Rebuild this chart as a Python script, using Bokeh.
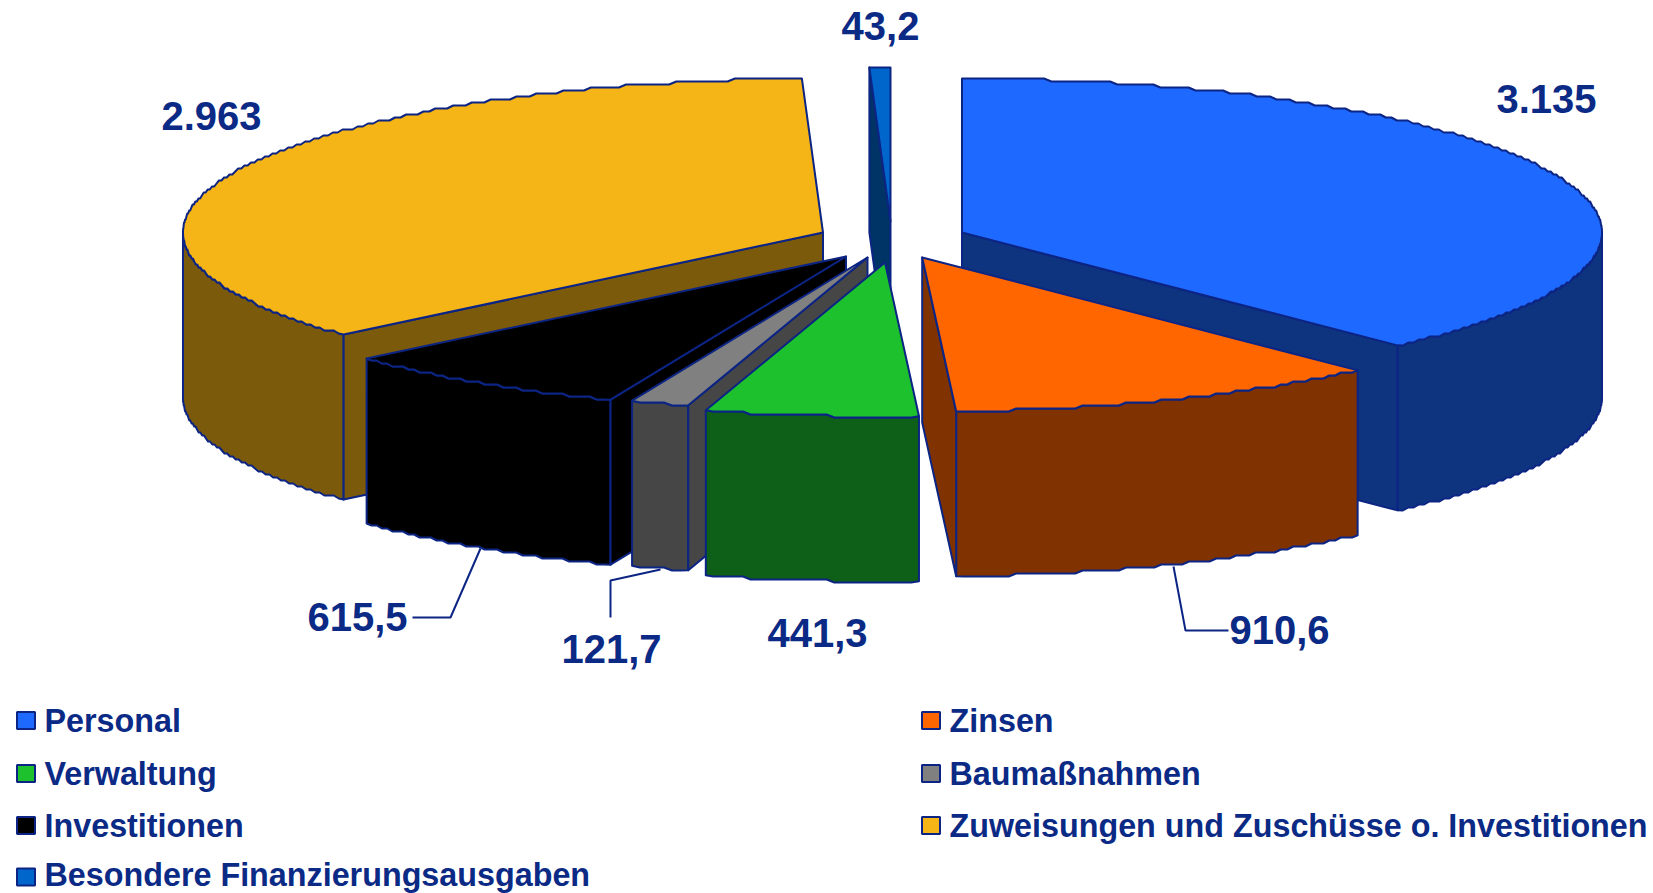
import numpy as np
from bokeh.plotting import figure
from bokeh.models import Range1d
from bokeh.core.properties import value
from bokeh.embed import file_html
from bokeh.resources import INLINE

# data
categories = ["Personal", "Zinsen", "Verwaltung", "Baumaßnahmen", "Investitionen",
              "Zuweisungen und Zuschüsse o. Investitionen", "Besondere Finanzierungsausgaben"]
values = [3135, 910.6, 441.3, 121.7, 615.5, 2963, 43.2]
value_labels = ["3.135", "910,6", "441,3", "121,7", "615,5", "2.963", "43,2"]

# styles
top_colors = ["#1E69FF", "#FF6600", "#1CC12D", "#808080", "#000000", "#F5B517", "#0066CC"]
side_colors = ["#0E3480", "#803300", "#0E6018", "#464646", "#000000", "#7B5A0C", "#003366"]
EDGE = "#0C2483"
TEXT = "#0A2A85"
FONT = "Liberation Sans"

# layout (reference pixels)
RX, RY, DEPTH = 640, 154, 165
STEP = 3
apex_x = [961.5, 921.7, 884.5, 867, 845.5, 822.5, 890]
apex_y = [232, 257, 262, 257, 256, 232, 221]
draw_order = [5, 0, 6, 4, 3, 2, 1]
label_x = [1546, 1279, 817, 611, 357, 211, 880]
label_y = [98, 629, 632, 648, 616, 115, 25]
leader_xs = [[480, 450, 412], [660, 610, 610], [1173, 1185, 1228]]
leader_ys = [[548, 617, 617], [569, 580, 617], [566, 630, 630]]
legend_x = [16, 16, 16, 16, 921, 921, 921]
legend_text_dx = [28, 28, 28, 28, 28, 28, 28]
legend_order = [0, 2, 4, 6, 1, 3, 5]
legend_rows = [720, 773, 825, 876.5, 720, 773, 825]
legend_text_rows = [720, 773, 825, 874.5, 720, 773, 825]

W, H = 1653, 893
p = figure(width=W, height=H, output_backend="svg", toolbar_location=None,
           x_range=Range1d(0, W), y_range=Range1d(H, 0),
           min_border=0, outline_line_color=None, x_axis_type=None, y_axis_type=None)
p.grid.visible = False

total = sum(values)
edges = np.concatenate([[0], np.cumsum(values)]) / total * 360.0


def rim(cx, cy, a, b):
    n = max(2, int(abs(b - a) * 1.5) + 1)
    t = np.radians(np.linspace(a, b, n))
    x = cx + RX * np.sin(t)
    y = cy - RY * np.cos(t)
    # the source's rim is slightly stepped: snap inner rim points to a coarse grid
    if n > 4:
        y[1:-1] = np.round(y[1:-1] / STEP) * STEP
    return x, y


xs, ys, fills = [], [], []
for i in draw_order:
    a, b = edges[i], edges[i + 1]
    cx, cy = apex_x[i], apex_y[i]
    # outer wall
    lo, hi = max(a, 90), min(b, 270)
    if hi > lo:
        rx, ry = rim(cx, cy, lo, hi)
        xs.append(np.concatenate([rx, rx[::-1]]))
        ys.append(np.concatenate([ry, ry[::-1] + DEPTH]))
        fills.append(side_colors[i])
    # radial faces
    for ang, visible in ((a, a >= 180), (b, b <= 180)):
        if visible:
            ex, ey = rim(cx, cy, ang, ang)
            ex, ey = ex[0], ey[0]
            xs.append([cx, ex, ex, cx])
            ys.append([cy, ey, ey + DEPTH, cy + DEPTH])
            fills.append(side_colors[i])
    # top
    rx, ry = rim(cx, cy, a, b)
    xs.append(np.concatenate([[cx], rx]))
    ys.append(np.concatenate([[cy], ry]))
    fills.append(top_colors[i])

p.patches(xs, ys, fill_color=fills, line_color=EDGE, line_width=2, line_join="round")
p.multi_line(leader_xs, leader_ys, line_color=EDGE, line_width=2)

p.text(label_x, label_y, text=value_labels, text_font=value(FONT), text_font_style="bold",
       text_font_size="40px", text_color=TEXT, text_align="center", text_baseline="middle")

cats = [categories[i] for i in legend_order]
sw = [top_colors[i] for i in legend_order]
p.rect([x + 9.5 for x in legend_x], legend_rows, width=18, height=17, fill_color=sw, line_color=EDGE, line_width=2)
p.text([x + d for x, d in zip(legend_x, legend_text_dx)], legend_text_rows, text=cats, text_font=value(FONT),
       text_font_style="bold", text_font_size="32.3px", text_color=TEXT,
       text_align="left", text_baseline="middle")

open("out.html", "w").write(file_html(p, INLINE))
